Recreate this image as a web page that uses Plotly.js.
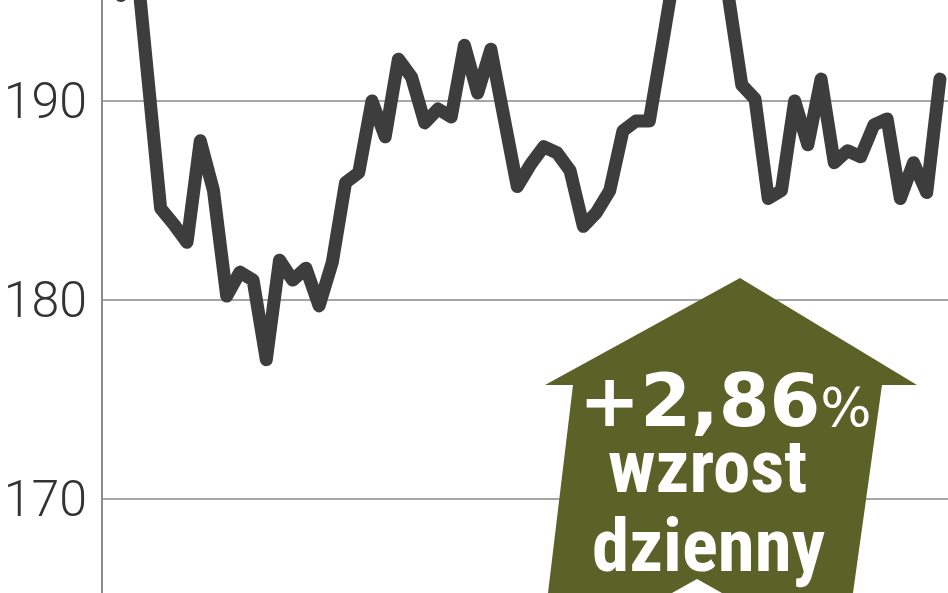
<!DOCTYPE html>
<html>
<head>
<meta charset="utf-8">
<script src="https://cdn.plot.ly/plotly-3.0.1.min.js"></script>
<style>
html,body{margin:0;padding:0;background:#ffffff;}
#chart{width:948px;height:593px;}
</style>
</head>
<body>
<div id="chart"></div>
<script>
// ---- data ----
const days = [
  0,1,2,3,4,5,6,7,8,9,10,11,12,13,14,15,16,17,18,19,20,
  21,22,23,24,25,26,27,28,29,30,31,32,33,34,35,36,37,38,39,40,
  41,42,43,44,45,46,47,48,49,50,51,52,53,54,55,56,57,58,59,60,61,62
];
const price = [
  195.3,198.2,191.4,184.6,183.8,182.9,188.0,185.5,180.2,181.4,181.0,
  177.0,182.0,181.0,181.6,179.7,181.9,185.9,186.4,190.0,188.2,
  192.1,191.2,188.9,189.6,189.2,192.8,190.4,192.6,188.7,185.7,
  186.8,187.7,187.4,186.5,183.7,184.4,185.5,188.5,189.0,189.0,
  192.9,196.9,197.8,198.6,198.0,195.2,190.8,190.1,185.1,185.5,
  190.0,187.8,191.1,186.9,187.5,187.2,188.8,189.1,185.1,186.9,
  185.4,191.1
];
const yTickValues = [170, 180, 190];
const yTickLabels = ["170", "180", "190"];
const changeText = "+2,86";
const changeUnit = "%";
const line2 = "wzrost";
const line3 = "dzienny";

// ---- layout helpers (decoration, pixel -> paper) ----
const W = 948, H = 593, ML = 103;
const PW = W - ML;
function px(x){ return (x - ML) / PW; }
function py(y){ return 1 - y / H; }
function pathFrom(pts){
  return pts.map((p,i)=> (i?'L':'M') + px(p[0]).toFixed(5) + ',' + py(p[1]).toFixed(5)).join(' ') + ' Z';
}
const arrowPts = [[740,278],[917,385],[882,385],[853,593],[722,593],[697,579],[672,593],[548,593],[573,385],[545,385]];

const trace = {
  x: days, y: price, type: 'scatter', mode: 'lines',
  line: {color: '#3d3d3d', width: 13, shape: 'linear'},
  hoverinfo: 'skip'
};

const layout = {
  width: W, height: H,
  margin: {l: ML, r: 0, t: 0, b: 0, pad: 0},
  paper_bgcolor: '#ffffff', plot_bgcolor: '#ffffff',
  showlegend: false,
  xaxis: {range: [-1.363, 62.61], showgrid: false, zeroline: false, showticklabels: false, ticks: '', showline: false, fixedrange: true},
  yaxis: {
    range: [165.276, 195.075],
    tickmode: 'array', tickvals: yTickValues, ticktext: yTickLabels,
    showgrid: true, gridcolor: '#a6a6a6', gridwidth: 2,
    zeroline: false, showline: true, linecolor: '#8a8a8a', linewidth: 2,
    ticks: '', ticklabelstandoff: 4,
    tickfont: {family: 'Roboto, "Liberation Sans", sans-serif', size: 50, color: '#333333', weight: 300},
    fixedrange: true
  },
  shapes: [{
    type: 'path', xref: 'paper', yref: 'paper', layer: 'above',
    path: pathFrom(arrowPts),
    fillcolor: '#5a6228', line: {width: 0}
  }],
  annotations: [
    {xref: 'paper', yref: 'paper', x: px(725), y: py(400), xanchor: 'center', yanchor: 'middle', showarrow: false,
     text: changeText + '<span style="font-size:54px;font-weight:normal">' + changeUnit + '</span>',
     font: {family: '"DejaVu Sans", sans-serif', size: 73, color: '#ffffff', weight: 700}},
    {xref: 'paper', yref: 'paper', x: px(707), y: py(466), xanchor: 'center', yanchor: 'middle', showarrow: false,
     text: line2,
     font: {family: '"Liberation Sans Narrow", "Roboto Condensed", "Liberation Sans", sans-serif', size: 75, color: '#ffffff', weight: 700}},
    {xref: 'paper', yref: 'paper', x: px(708), y: py(545), xanchor: 'center', yanchor: 'middle', showarrow: false,
     text: line3,
     font: {family: '"Liberation Sans Narrow", "Roboto Condensed", "Liberation Sans", sans-serif', size: 75, color: '#ffffff', weight: 700}}
  ]
};

Plotly.newPlot('chart', [trace], layout, {displayModeBar: false, staticPlot: true}).then(function(){
  document.querySelectorAll('.scatterlayer path.js-line').forEach(function(p){
    p.style.strokeLinejoin = 'round';
    p.style.strokeLinecap = 'round';
  });
});
</script>
</body>
</html>
